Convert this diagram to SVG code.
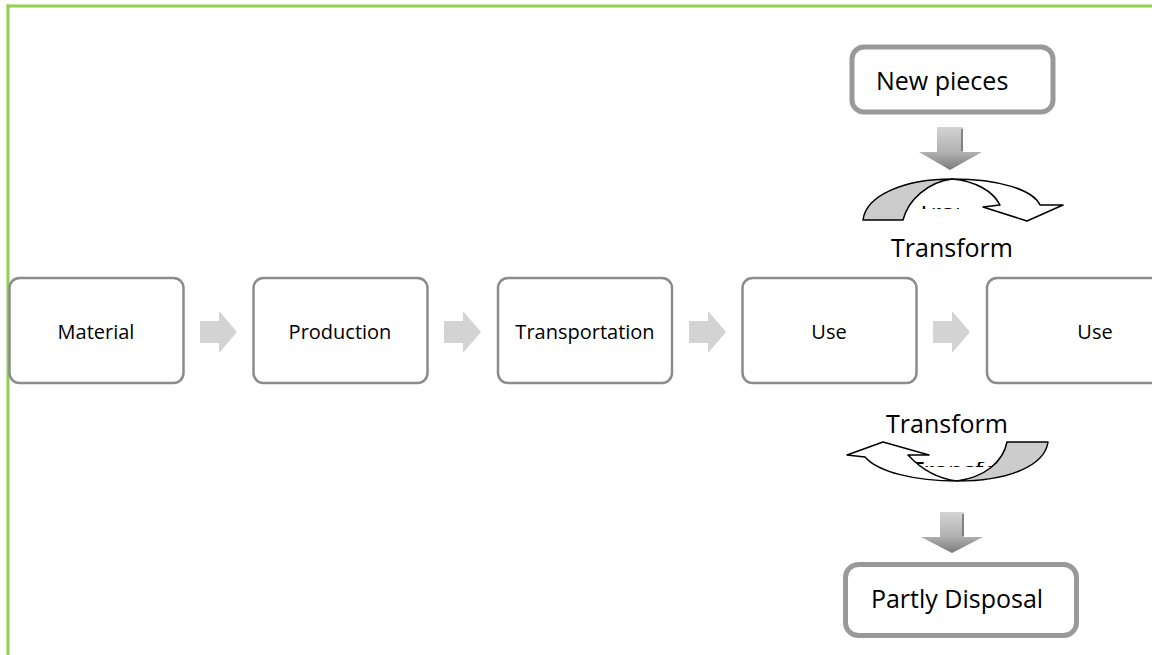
<svg xmlns="http://www.w3.org/2000/svg" width="1152" height="655" viewBox="0 0 1152 655">
<style>
.box{fill:#fff;stroke:#8c8c8c;stroke-width:2.5}
.tbox{fill:#fff;stroke:#999;stroke-width:5}
.lbl{font-family:"Open Sans","Liberation Sans",sans-serif;font-size:20px;fill:#000;text-anchor:middle}
.big{font-family:"Open Sans","Liberation Sans",sans-serif;font-size:25px;fill:#000}
.chev{fill:#d3d3d3}
.cw{fill:#fff;stroke:#000;stroke-width:1.5;stroke-linejoin:round}
.cg{fill:#cccccc;stroke:#000;stroke-width:1.5;stroke-linejoin:round}
.down{fill:url(#dg)}
</style>
<defs>
<linearGradient id="dg" x1="0" y1="0" x2="0" y2="1">
<stop offset="0" stop-color="#d4d4d4"/>
<stop offset="0.6" stop-color="#b0b0b0"/>
<stop offset="1" stop-color="#7a7a7a"/>
</linearGradient>
<clipPath id="ct"><rect x="914" y="206" width="45" height="3"/></clipPath>
<clipPath id="cb"><rect x="905" y="462" width="100" height="5"/></clipPath>
</defs>
<rect width="1152" height="655" fill="#fff"/>
<g id="frame" fill="none" stroke="#92d050" stroke-width="3">
<line x1="6.5" y1="6" x2="1152" y2="6"/>
<line x1="8" y1="4.5" x2="8" y2="655"/>
</g>
<g id="connectors">
<path class="chev" d="M200,321 H219 V311 L237,332 L219,353 V343 H200 Z"/>
<path class="chev" d="M444,321 H463 V311 L481,332 L463,353 V343 H444 Z"/>
<path class="chev" d="M689,321 H708 V311 L726,332 L708,353 V343 H689 Z"/>
<path class="chev" d="M933,321 H952 V311 L970,332 L952,353 V343 H933 Z"/>
<path class="down" d="M937,127 H963 V152 H982 L950,170 L919,152 H937 Z"/>
<line x1="962" y1="129" x2="962" y2="151" stroke="#6e6e6e" stroke-width="1.5"/>
<path class="down" d="M940,512 H964 V537 H983 L952,553 L921,537 H940 Z"/>
<line x1="963" y1="514" x2="963" y2="536" stroke="#6e6e6e" stroke-width="1.5"/>
</g>
<g id="transform-top">
<path class="cg" d="M863,220 C866,195 905,179 952,179 C928,182 908,200 903,220 Z"/>
<text class="big" x="917" y="222" clip-path="url(#ct)">Transform</text>
<path class="cw" d="M952,179 C1000,179 1033,190 1040,205 L1063,205 L1027,221 L983,207 L1000,205 C993,191 975,181 952,179 Z"/>
<text class="big" x="952" y="257" text-anchor="middle">Transform</text>
</g>
<g id="transform-bottom">
<text class="big" x="947" y="433" text-anchor="middle">Transform</text>
<text class="big" x="910" y="480" clip-path="url(#cb)">Transform</text>
<path class="cw" d="M865,457 L847,455 L883,442 L929,455 L908,455 C922,470 940,479 957,481 C915,481 878,472 865,457 Z"/>
<path class="cg" d="M1007,442 L1048,442 C1045,465 1010,481 957,481 C985,477 1003,462 1007,442 Z"/>
</g>
<g id="node-material">
<rect class="box" x="9.5" y="278" width="174" height="105" rx="10"/>
<text class="lbl" x="96" y="339">Material</text>
</g>
<g id="node-production">
<rect class="box" x="253.5" y="278" width="174" height="105" rx="10"/>
<text class="lbl" x="340" y="339">Production</text>
</g>
<g id="node-transportation">
<rect class="box" x="498" y="278" width="174" height="105" rx="10"/>
<text class="lbl" x="585" y="339">Transportation</text>
</g>
<g id="node-use1">
<rect class="box" x="742.5" y="278" width="174" height="105" rx="10"/>
<text class="lbl" x="829" y="339">Use</text>
</g>
<g id="node-use2">
<rect class="box" x="987" y="278" width="220" height="105" rx="10"/>
<text class="lbl" x="1095" y="339">Use</text>
</g>
<g id="node-newpieces">
<rect class="tbox" x="852" y="47" width="201" height="65" rx="12"/>
<text class="big" x="876" y="90">New pieces</text>
</g>
<g id="node-disposal">
<rect class="tbox" x="845.5" y="564.5" width="231" height="71" rx="13"/>
<text class="big" x="957" y="608" text-anchor="middle">Partly Disposal</text>
</g>
</svg>
